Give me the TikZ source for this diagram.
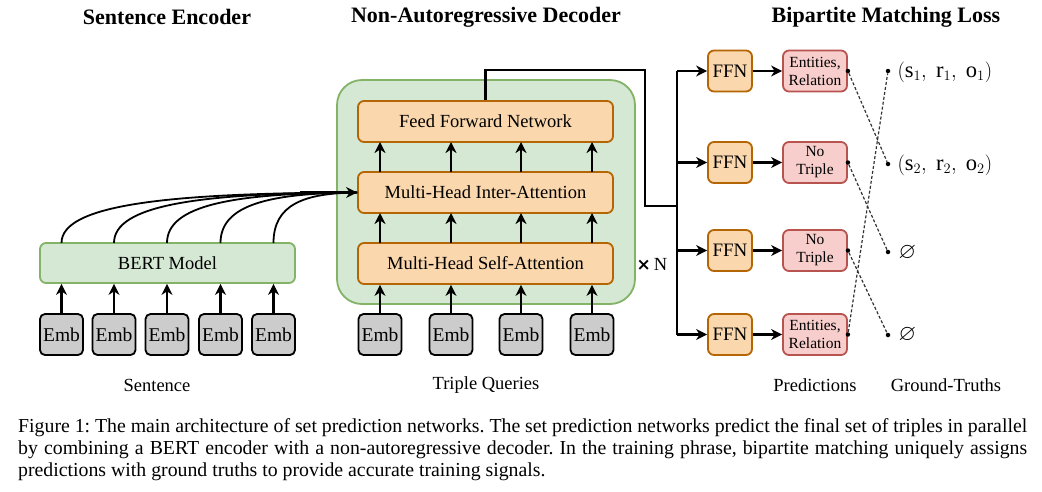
\documentclass[tikz,border=0pt]{standalone}
\usepackage{amssymb}
\usepackage{fontspec}
\setmainfont{Liberation Serif}
\newfontfamily\djsans{DejaVu Sans}
\usetikzlibrary{arrows.meta}
\definecolor{gfill}{HTML}{D5E8D4}
\definecolor{gline}{HTML}{82B366}
\definecolor{ofill}{HTML}{FAD7AC}
\definecolor{oline}{HTML}{B46504}
\definecolor{rfill}{HTML}{F8CECC}
\definecolor{rline}{HTML}{B85450}
\definecolor{efill}{HTML}{CCCCCC}
\tikzset{
  lbl/.style={font=\fontsize{18.5}{22}\selectfont},
  ttl/.style={font=\fontsize{22}{26}\selectfont\bfseries},
  embbox/.style={draw=black, line width=1.8pt, fill=efill, rounded corners=5pt, minimum width=43pt, minimum height=41pt, inner sep=0pt, font=\fontsize{19.5}{22}\selectfont},
  greenbox/.style={draw=gline, line width=1.8pt, fill=gfill, rounded corners=6pt, inner sep=0pt, lbl},
  orangebox/.style={draw=oline, line width=1.8pt, fill=ofill, rounded corners=6pt, minimum width=255pt, minimum height=41pt, inner sep=0pt, lbl},
  ffnbox/.style={draw=oline, line width=1.8pt, fill=ofill, rounded corners=6pt, minimum width=44pt, minimum height=41pt, inner sep=0pt, font=\fontsize{19}{22}\selectfont},
  predbox/.style={draw=rline, line width=1.8pt, fill=rfill, rounded corners=6pt, minimum width=64pt, minimum height=41pt, inner sep=0pt, align=center, font=\fontsize{15.5}{18}\selectfont},
  arr/.style={line width=2.2pt, -{Stealth[length=11pt,width=11pt,inset=3.5pt]}},
  ln/.style={line width=2.2pt},
  matchline/.style={line width=1.2pt, dash pattern=on 3pt off 2pt, black!80},
  dotc/.style={circle, fill=black, inner sep=0pt, minimum size=4.5pt},
  gt/.style={anchor=west, font=\fontsize{22.5}{26}\selectfont},
  capl/.style={anchor=base west, inner sep=0pt, font=\fontsize{19.8}{22}\selectfont\frenchspacing},
}
\begin{document}
\begin{tikzpicture}[x=1pt,y=-1pt]
\useasboundingbox (0,0) rectangle (1042,491);
\fill[white] (0,0) rectangle (1042,491);

% titles
\node[ttl] (t1) at (167,17) {Sentence Encoder};
\node[ttl] (t2) at (486,17) {Non-Autoregressive Decoder};
\node[ttl] (t3) at (886,17) {Bipartite Matching Loss};

% decoder background
\node[draw=gline, line width=1.8pt, fill=gfill, rounded corners=25pt, minimum width=298pt, minimum height=224pt, inner sep=0pt] (dec) at (486,192) {};

% encoder
\node[greenbox, minimum width=255pt, minimum height=40pt] (bert) at (167.5,263) {BERT Model};
\foreach \i/\x in {1/61.5,2/114,3/167,4/220.5,5/273.5}{
  \node[embbox] (se\i) at (\x,334.5) {Emb};
  \draw[arr] (se\i.north) -- (se\i.north |- bert.south);
}

% decoder layers
\node[orangebox] (ff) at (485.5,121.5) {Feed Forward Network};
\node[orangebox] (ia) at (485.5,192.5) {Multi-Head Inter-Attention};
\node[orangebox] (sa) at (485.5,263.5) {Multi-Head Self-Attention};
\foreach \i/\x in {1/380,2/451,3/521,4/592}{
  \node[embbox] (qe\i) at (\x,334.5) {Emb};
  \draw[arr] (qe\i.north) -- (qe\i.north |- sa.south);
  \draw[arr] (\x,243) -- (\x,213);
  \draw[arr] (\x,172) -- (\x,142);
}

% encoder to inter-attention curves
\foreach \i/\x in {1/61.5,2/114,3/167,4/220.5,5/273.5}{
  \pgfmathsetmacro{\cx}{\x+(358-\x)*0.35}
  \draw[line width=1.8pt] (\x,243) .. controls (\x,205) and (\cx,193) .. (ia.west);
}
\draw[arr] (300,192.5) -- (ia.west);

% xN
\node[font=\fontsize{18.5}{22}\selectfont] (xn) at (652,264) {{\djsans\bfseries\fontsize{17}{20}\selectfont ×}\,N};

% output bus
\coordinate (c1) at (486,70);
\coordinate (c2) at (645,70);
\coordinate (c3) at (645,206);
\coordinate (bj) at (677,206);
\coordinate (btop) at (677,71);
\coordinate (bbot) at (677,334.5);
\draw[ln, line join=miter] (ff.north) -- (ff.north |- c1) -- (c2) -- (c3) -- (bj);
\draw[ln] (btop) -- (bbot);

% prediction rows
\foreach \i/\y/\t in {1/71/{Entities,\\Relation},2/162.5/{No\\Triple},3/250.5/{No\\Triple},4/334.5/{Entities,\\Relation}}{
  \node[ffnbox] (ffn\i) at (730,\y) {FFN};
  \node[predbox] (p\i) at (815,\y) {\t};
  \coordinate (b\i) at (677,\y);
  \draw[arr] (b\i) -- (ffn\i.west);
  \draw[arr] (ffn\i.east) -- (p\i.west);
  \node[dotc] (pd\i) at (p\i.east) {};
}

% ground truths
\node[dotc] (g1) at (888,71) {};
\node[dotc] (g2) at (888,164) {};
\node[dotc] (g3) at (888,252) {};
\node[dotc] (g4) at (888,335) {};
\node[gt] (gt1) at (894,72) {$(\mathrm{s}_1,\; \mathrm{r}_1,\; \mathrm{o}_1)$};
\node[gt] (gt2) at (894,165) {$(\mathrm{s}_2,\; \mathrm{r}_2,\; \mathrm{o}_2)$};
\node[gt] (gt3) at (895,253) {$\varnothing$};
\node[gt] (gt4) at (895,335) {$\varnothing$};

\draw[matchline] (pd1) -- (g2);
\draw[matchline] (pd2) -- (g3);
\draw[matchline] (pd3) -- (g4);
\draw[matchline] (pd4) -- (g1);

% bottom labels
\node[lbl] (l1) at (157,385) {Sentence};
\node[lbl] (l2) at (486,385) {Triple Queries};
\node[lbl] (l3) at (815,385) {Predictions};
\node[lbl] (l4) at (946,385) {Ground-Truths};

% caption
\node[capl] (cap1) at (18,432) {\makebox[1009pt][s]{Figure 1: The main architecture of set prediction networks. The set prediction networks predict the final set of triples in parallel}};
\node[capl] (cap2) at (18,454) {\makebox[1009pt][s]{by combining a BERT encoder with a non-autoregressive decoder. In the training phrase, bipartite matching uniquely assigns}};
\node[capl] (cap3) at (18,476) {predictions with ground truths to provide accurate training signals.};
\end{tikzpicture}
\end{document}
